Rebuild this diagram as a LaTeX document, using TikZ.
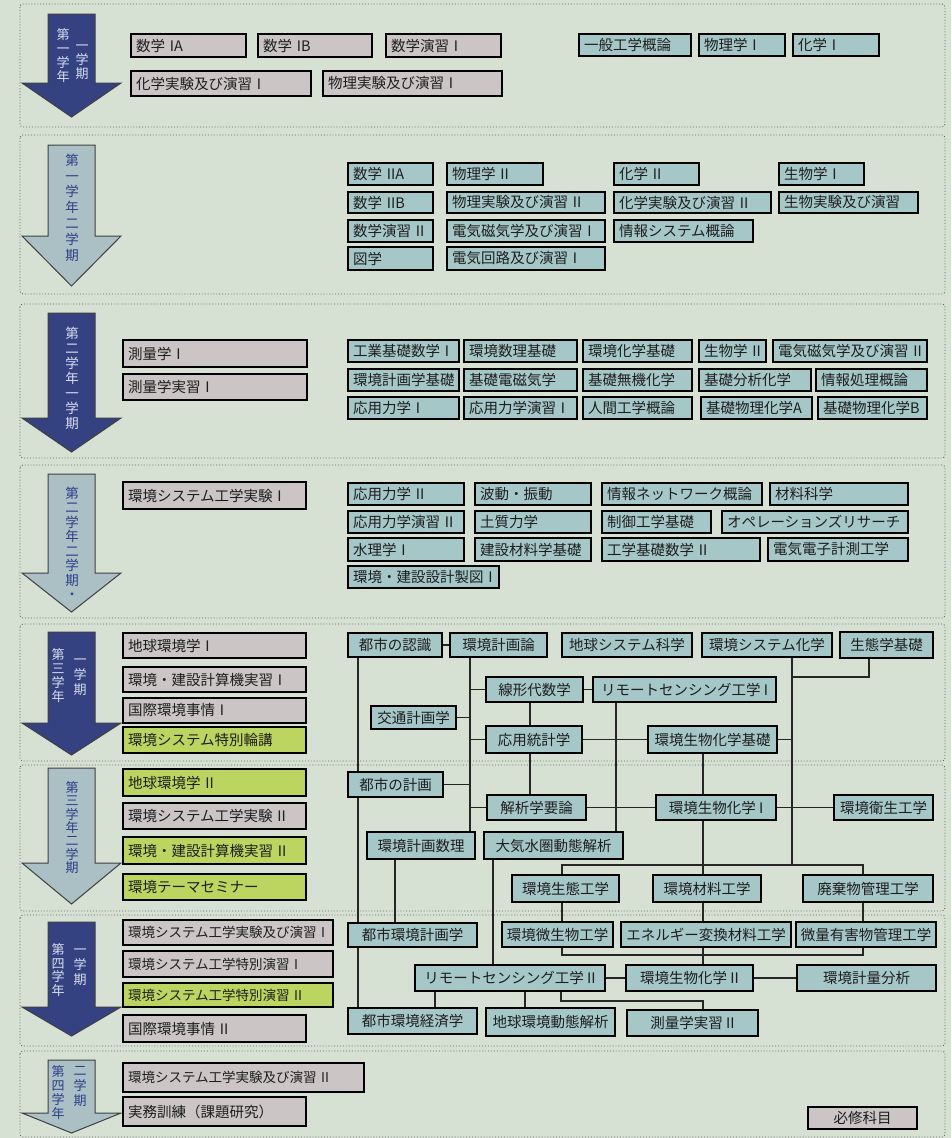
\documentclass[tikz,border=0pt]{standalone}
\usepackage{fontspec}
\setmainfont{Noto Sans CJK JP}
\usetikzlibrary{calc}
\definecolor{bg}{RGB}{214,224,211}
\definecolor{gbox}{RGB}{203,197,197}
\definecolor{tbox}{RGB}{166,199,199}
\definecolor{ybox}{RGB}{188,212,96}
\definecolor{darr}{RGB}{52,66,130}
\definecolor{larr}{RGB}{170,192,196}
\definecolor{dtxt}{RGB}{215,222,238}
\definecolor{ltxt}{RGB}{45,62,140}
\definecolor{frame}{RGB}{95,100,95}
\definecolor{btxt}{RGB}{30,30,30}
\tikzset{
  box/.style={draw=black, line width=2.2pt, inner xsep=5pt, inner ysep=0pt,
    font=\fontsize{14.5}{15}\selectfont, text=btxt},
  gb/.style={box, fill=gbox},
  tb/.style={box, fill=tbox},
  yb/.style={box, fill=ybox},
  smallfont/.style={font=\fontsize{13.5}{14}\selectfont},
  conn/.style={draw=black!85, line width=1.4pt},
  sect/.style={draw=frame, line width=0.9pt, dotted, rounded corners=3pt},
  arrD/.style={fill=darr, draw=black!75, line width=1pt},
  arrL/.style={fill=larr, draw=black!75, line width=1pt},
  atxtD/.style={text=dtxt, inner sep=0pt, align=center},
  atxtL/.style={text=ltxt, inner sep=0pt, align=center}
}
% left-aligned box: name, x1, y1, x2, y2, style, text
\newcommand{\BL}[7]{%
  \pgfmathsetmacro\bxw{#4-#2-10}\pgfmathsetmacro\bxh{#5-#3}%
  \node[#6, text width=\bxw pt, align=left, minimum height=\bxh pt]
    (#1) at ({(#2+#4)/2},{(#3+#5)/2}) {\mbox{#7}};}
% centred box
\newcommand{\BC}[7]{%
  \pgfmathsetmacro\bxw{#4-#2}\pgfmathsetmacro\bxh{#5-#3}%
  \node[#6, minimum width=\bxw pt, minimum height=\bxh pt]
    (#1) at ({(#2+#4)/2},{(#3+#5)/2}) {#7};}
% arrow: top, head start, tip, style
\newcommand{\Arr}[4]{%
  \draw[#4] (48,#1) -- (95,#1) -- (95,#2) -- (121,#2) -- (71.5,#3) -- (22,#2) -- (48,#2) -- cycle;}
\begin{document}
\begin{tikzpicture}[x=1pt,y=-1pt]
\useasboundingbox (0,0) rectangle (951,1138);
\fill[bg] (0,0) rectangle (951,1138);

% section frames
\draw[sect] (20,4) rectangle (945,127);
\draw[sect] (20,135) rectangle (945,294);
\draw[sect] (20,304) rectangle (945,458);
\draw[sect] (20,465) rectangle (945,618);
\draw[sect] (20,624) rectangle (945,761);
\draw[sect] (20,765) rectangle (945,911);
\draw[sect] (20,915) rectangle (945,1046);
\draw[sect] (20,1051) rectangle (945,1137);

% arrows
\Arr{14}{83}{117}{arrD}
\Arr{145}{236}{286}{arrL}
\Arr{313}{418}{452}{arrD}
\Arr{474}{573}{612}{arrL}
\Arr{632}{723}{755}{arrD}
\Arr{768}{863}{904}{arrL}
\Arr{922}{1007}{1036}{arrD}
\Arr{1060}{1113}{1133}{arrL}

% arrow texts
\node[atxtD, font=\fontsize{13}{13.8}\selectfont] (t1a) at (63,55.5) {第\\一\\学\\年};
\node[atxtD, font=\fontsize{13}{13.8}\selectfont] (t1b) at (82,62) {一\\学\\期};
\node[atxtL, font=\fontsize{13.5}{15.8}\selectfont] (t2) at (72,207.5) {第\\一\\学\\年\\二\\学\\期};
\node[atxtD, font=\fontsize{13.5}{15}\selectfont] (t3) at (72,378) {第\\二\\学\\年\\一\\学\\期};
\node[atxtL, font=\fontsize{13.5}{14.5}\selectfont] (t4) at (72,543.5) {第\\二\\学\\年\\二\\学\\期\\・};
\node[atxtD, font=\fontsize{13}{14}\selectfont] (t5a) at (58,676) {第\\三\\学\\年};
\node[atxtD, font=\fontsize{13}{15}\selectfont] (t5b) at (80,677) {一\\学\\期};
\node[atxtL, font=\fontsize{13}{13.4}\selectfont] (t6) at (72,827.5) {第\\三\\学\\年\\二\\学\\期};
\node[atxtD, font=\fontsize{13}{13.5}\selectfont] (t7a) at (58,970) {第\\四\\学\\年};
\node[atxtD, font=\fontsize{13}{15}\selectfont] (t7b) at (80,967) {一\\学\\期};
\node[atxtL, font=\fontsize{13}{13.7}\selectfont] (t8a) at (58,1092.5) {第\\四\\学\\年};
\node[atxtL, font=\fontsize{13}{15}\selectfont] (t8b) at (80,1087) {二\\学\\期};

% ---- section 1
\BL{a1}{131}{34}{246}{57}{gb}{数学 IA}
\BL{a2}{258}{34}{372}{57}{gb}{数学 IB}
\BL{a3}{386}{34}{501}{57}{gb}{数学演習 I}
\BL{a4}{131}{71}{311}{96}{gb}{化学実験及び演習 I}
\BL{a5}{323}{71}{502}{96}{gb}{物理実験及び演習 I}
\BL{a6}{579}{34}{691}{56}{tb}{一般工学概論}
\BL{a7}{699}{34}{785}{56}{tb}{物理学 I}
\BL{a8}{793}{34}{879}{56}{tb}{化学 I}

% ---- section 2
\BL{b1}{348}{163}{433}{185}{tb}{数学 IIA}
\BL{b2}{348}{192}{433}{213}{tb}{数学 IIB}
\BL{b3}{348}{220}{433}{242}{tb}{数学演習 II}
\BL{b4}{348}{247}{433}{270}{tb}{図学}
\BL{b5}{447}{163}{543}{185}{tb}{物理学 II}
\BL{b6}{447}{192}{605}{213}{tb}{物理実験及び演習 II}
\BL{b7}{447}{220}{605}{242}{tb}{電気磁気学及び演習 I}
\BL{b8}{447}{247}{605}{270}{tb}{電気回路及び演習 I}
\BL{b9}{614}{163}{699}{185}{tb}{化学 II}
\BL{b10}{614}{192}{771}{213}{tb}{化学実験及び演習 II}
\BL{b11}{614}{220}{753}{242}{tb}{情報システム概論}
\BL{b12}{779}{163}{864}{185}{tb}{生物学 I}
\BL{b13}{779}{192}{918}{213}{tb}{生物実験及び演習}

% ---- section 3
\BL{c1}{123}{340}{307}{367}{gb}{測量学 I}
\BL{c2}{123}{374}{307}{400}{gb}{測量学実習 I}
\BL{c3}{348}{340}{459}{362}{tb}{工業基礎数学 I}
\BL{c4}{464}{340}{577}{362}{tb}{環境数理基礎}
\BL{c5}{583}{340}{692}{362}{tb}{環境化学基礎}
\BL{c6}{699}{340}{766}{362}{tb}{生物学 II}
\BL{c7}{773}{340}{927}{362}{tb}{電気磁気学及び演習 II}
\BL{c8}{348}{369}{459}{391}{tb}{環境計画学基礎}
\BL{c9}{464}{369}{577}{391}{tb}{基礎電磁気学}
\BL{c10}{583}{369}{692}{391}{tb}{基礎無機化学}
\BL{c11}{699}{369}{811}{391}{tb}{基礎分析化学}
\BL{c12}{816}{369}{927}{391}{tb}{情報処理概論}
\BL{c13}{348}{397}{459}{419}{tb}{応用力学 I}
\BL{c14}{464}{397}{577}{419}{tb}{応用力学演習 I}
\BL{c15}{583}{397}{692}{419}{tb}{人間工学概論}
\BL{c16}{701}{397}{812}{419}{tb}{基礎物理化学A}
\BL{c17}{818}{397}{927}{419}{tb}{基礎物理化学B}

% ---- section 4
\BL{d1}{123}{482}{306}{509}{gb}{環境システム工学実験 I}
\BL{d2}{348}{483}{464}{505}{tb}{応用力学 II}
\BL{d3}{475}{483}{591}{505}{tb}{波動・振動}
\BL{d4}{602}{483}{762}{505}{tb}{情報ネットワーク概論}
\BL{d5}{770}{483}{908}{505}{tb}{材料科学}
\BL{d6}{348}{511}{464}{533}{tb}{応用力学演習 II}
\BL{d7}{475}{511}{591}{533}{tb}{土質力学}
\BL{d8}{602}{511}{711}{533}{tb}{制御工学基礎}
\BL{d9}{722}{511}{908}{533}{tb}{オペレーションズリサーチ}
\BL{d10}{348}{538}{464}{561}{tb}{水理学 I}
\BL{d11}{475}{538}{591}{561}{tb}{建設材料学基礎}
\BL{d12}{602}{538}{760}{561}{tb}{工学基礎数学 II}
\BL{d13}{768}{538}{908}{561}{tb}{電気電子計測工学}
\BL{d14}{348}{566}{499}{588}{tb}{環境・建設設計製図 I}

% ---- left column, sections 5-8
\BL{e1}{123}{633}{306}{658}{gb}{地球環境学 I}
\BL{e2}{123}{667}{306}{692}{gb}{環境・建設計算機実習 I}
\BL{e3}{123}{698}{306}{723}{gb}{国際環境事情 I}
\BL{e4}{123}{727}{306}{753}{yb}{環境システム特別輪講}
\BL{e5}{123}{769}{306}{796}{yb}{地球環境学 II}
\BL{e6}{123}{803}{306}{829}{gb}{環境システム工学実験 II}
\BL{e7}{123}{837}{306}{864}{yb}{環境・建設計算機実習 II}
\BL{e8}{123}{874}{306}{900}{yb}{環境テーマセミナー}
\BL{e9}{123}{920}{333}{945}{gb,smallfont}{環境システム工学実験及び演習 I}
\BL{e10}{123}{951}{333}{977}{gb,smallfont}{環境システム工学特別演習 I}
\BL{e11}{123}{983}{333}{1007}{yb,smallfont}{環境システム工学特別演習 II}
\BL{e12}{123}{1015}{306}{1042}{gb}{国際環境事情 II}
\BL{e13}{123}{1063}{364}{1092}{gb,smallfont}{環境システム工学実験及び演習 II}
\BL{e14}{123}{1097}{306}{1126}{gb}{実務訓練（課題研究）}
\BC{lg}{808}{1107}{917}{1129}{gb}{必修科目}

% ---- network
\BC{n1}{348}{633}{442}{657}{tb}{都市の認識}
\BC{n2}{450}{633}{547}{657}{tb}{環境計画論}
\BC{n3}{562}{633}{692}{657}{tb}{地球システム科学}
\BC{n4}{702}{633}{832}{657}{tb}{環境システム化学}
\BC{n5}{840}{632}{933}{658}{tb}{生態学基礎}
\BC{n6}{486}{677}{583}{702}{tb}{線形代数学}
\BC{n7}{593}{677}{776}{702}{tb}{リモートセンシング工学 I}
\BC{n8}{371}{706}{456}{729}{tb}{交通計画学}
\BC{n9}{486}{726}{582}{753}{tb}{応用統計学}
\BC{n10}{648}{726}{777}{753}{tb}{環境生物化学基礎}
\BC{n11}{348}{772}{443}{797}{tb}{都市の計画}
\BC{n12}{487}{795}{586}{820}{tb}{解析学要論}
\BC{n13}{656}{795}{776}{820}{tb}{環境生物化学 I}
\BC{n14}{834}{795}{933}{820}{tb}{環境衛生工学}
\BC{n15}{367}{832}{475}{859}{tb}{環境計画数理}
\BC{n16}{484}{832}{623}{859}{tb}{大気水圏動態解析}
\BC{n17}{512}{875}{619}{902}{tb}{環境生態工学}
\BC{n18}{653}{875}{761}{902}{tb}{環境材料工学}
\BC{n19}{803}{875}{933}{902}{tb}{廃棄物管理工学}
\BC{n20}{348}{923}{477}{947}{tb}{都市環境計画学}
\BC{n21}{503}{922}{612}{947}{tb}{環境微生物工学}
\BC{n22}{621}{922}{791}{947}{tb}{エネルギー変換材料工学}
\BC{n23}{798}{922}{934}{947}{tb}{微量有害物管理工学}
\BC{n24}{415}{965}{605}{991}{tb}{リモートセンシング工学 II}
\BC{n25}{626}{965}{753}{991}{tb}{環境生物化学 II}
\BC{n26}{797}{965}{936}{991}{tb}{環境計量分析}
\BC{n27}{348}{1008}{477}{1034}{tb}{都市環境経済学}
\BC{n28}{486}{1008}{615}{1036}{tb}{地球環境動態解析}
\BC{n29}{627}{1010}{758}{1036}{tb}{測量学実習 II}

% helper coordinates for trunk lines
\coordinate (X358) at (358,0);
\coordinate (X395) at (395,0);
\coordinate (X435) at (435,0);
\coordinate (X470) at (470,0);
\coordinate (X493) at (493,0);
\coordinate (X525) at (525,0);
\coordinate (X530) at (530,0);
\coordinate (X561) at (561,0);
\coordinate (X562) at (562,0);
\coordinate (X616) at (616,0);
\coordinate (X703) at (703,0);
\coordinate (X792) at (792,0);
\coordinate (X863) at (863,0);
\coordinate (X869) at (869,0);
\coordinate (Y677) at (0,677);
\coordinate (Y865) at (0,865);
\coordinate (Y955) at (0,955);
\coordinate (Y1001) at (0,1001);

% connectors
\draw[conn] (n1.south -| X358) -- (n11.north -| X358);
\draw[conn] (n11.south -| X358) -- (n20.north -| X358);
\draw[conn] (n20.south -| X358) -- (n27.north -| X358);
\draw[conn] (n1.east) -- (n2.west);
\draw[conn] (n2.south -| X470) -- (n15.north -| X470);
\draw[conn] (n6.west -| X470) -- (n6.west);
\draw[conn] (n8.east) -- (n8.east -| X470);
\draw[conn] (n9.west -| X470) -- (n9.west);
\draw[conn] (n11.east) -- (n11.east -| X470);
\draw[conn] (n12.west -| X470) -- (n12.west);
\draw[conn] (n6.east) -- (n7.west);
\draw[conn] (n6.south -| X530) -- (n9.north -| X530);
\draw[conn] (n9.south -| X530) -- (n12.north -| X530);
\draw[conn] (n9.east) -- (n10.west);
\draw[conn] (n7.south -| X616) -- (n16.north -| X616);
\draw[conn] (n4.south -| X792) -- (Y865 -| X792);
\draw[conn] (n5.south -| X869) -- (Y677 -| X869) -- (Y677 -| X792);
\draw[conn] (n10.east) -- (n10.east -| X792);
\draw[conn] (n10.south -| X703) -- (n13.north -| X703);
\draw[conn] (n13.south -| X703) -- (n18.north -| X703);
\draw[conn] (n12.east) -- (n13.west);
\draw[conn] (n13.east) -- (n14.west);
\draw[conn] (n17.north -| X562) -- (Y865 -| X562) -- (Y865 -| X863) -- (n19.north -| X863);
\draw[conn] (n16.south -| X493) -- (n24.north -| X493);
\draw[conn] (n15.south -| X395) -- (n20.north -| X395);
\draw[conn] (n17.south -| X562) -- (n21.north -| X562);
\draw[conn] (n18.south -| X703) -- (n22.north -| X703);
\draw[conn] (n19.south -| X863) -- (n23.north -| X863);
\draw[conn] (n21.south -| X562) -- (Y955 -| X562) -- (Y955 -| X863) -- (n23.south -| X863);
\draw[conn] (n22.south -| X703) -- (n25.north -| X703);
\draw[conn] (n24.east) -- (n25.west);
\draw[conn] (n25.east) -- (n26.west);
\draw[conn] (n24.south -| X525) -- (n28.north -| X525);
\draw[conn] (n24.south -| X435) -- (n27.north -| X435);
\draw[conn] (n24.south -| X561) -- (Y1001 -| X561) -- (Y1001 -| X703) -- (n29.north -| X703);
\end{tikzpicture}
\end{document}
